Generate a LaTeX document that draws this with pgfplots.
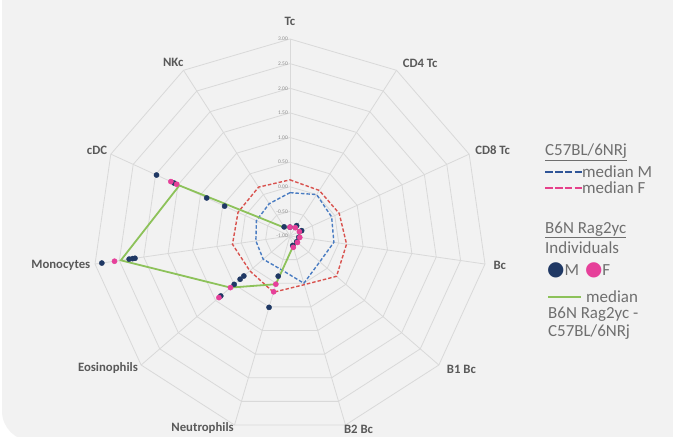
\documentclass[border=0pt]{standalone}
\usepackage{fontspec}
\setmainfont{Carlito}
\newfontfamily\symfont{DejaVu Sans}
\usepackage{pgfplots}
\pgfplotsset{compat=1.18}
\usepgfplotslibrary{polar}
\usepackage{pgfplotstable}

\definecolor{bg}{HTML}{F2F2F2}
\definecolor{gridc}{HTML}{D9D9D9}
\definecolor{labc}{HTML}{595959}
\definecolor{tickc}{HTML}{8C8C8C}
\definecolor{legc}{HTML}{6F6F6F}
\definecolor{medM}{HTML}{4A7CC2}
\definecolor{medF}{HTML}{D9534F}
\definecolor{legM}{HTML}{2F5597}
\definecolor{legF}{HTML}{E6408A}
\definecolor{indM}{HTML}{1F3864}
\definecolor{indF}{HTML}{E6409A}
\definecolor{grn}{HTML}{8DC25A}

% angles: Tc 90, CD4 Tc 57.27, CD8 Tc 24.55, Bc -8.18, B1 Bc -40.91, B2 Bc -73.64,
% Neutrophils -106.36, Eosinophils -139.09, Monocytes -171.82, cDC 155.45, NKc 122.73
\pgfplotstableread{
ang v
90 -0.12
57.27 0.00
24.55 -0.07
-8.18 -0.10
-40.91 -0.20
-73.64 0.00
-106.36 -0.30
-139.09 -0.28
-171.82 -0.30
155.45 -0.25
122.73 -0.22
90 -0.12
}\medMtab

\pgfplotstableread{
ang v
90 0.14
57.27 0.10
24.55 0.10
-8.18 0.16
-40.91 0.25
-73.64 0.03
-106.36 0.19
-139.09 0.08
-171.82 0.18
155.45 0.16
122.73 0.18
90 0.14
}\medFtab

\pgfplotstableread{
ang v
90 -0.82
57.27 -0.80
24.55 -0.78
-8.18 -0.80
-40.91 -0.80
-73.64 -0.78
-106.36 0.02
-139.09 0.60
-171.82 2.47
155.45 1.47
122.73 -0.80
90 -0.82
}\grnTab

\pgfplotstableread{
ang v
90 -0.82
57.27 -0.75
24.55 -0.74
-8.18 -0.82
-40.91 -0.82
-73.64 -0.80
122.73 -0.78
-106.36 -0.15
-106.36 0.51
-139.09 0.24
-139.09 0.34
-139.09 0.50
-139.09 0.86
-171.82 2.86
-171.82 2.30
-171.82 2.23
-171.82 2.18
155.45 1.98
155.45 1.59
155.45 0.86
155.45 0.46
}\indMtab

\pgfplotstableread{
ang v
90 -0.82
57.27 -0.80
24.55 -0.79
-8.18 -0.80
-40.91 -0.80
-73.64 -0.76
-106.36 0.02
-106.36 0.18
-139.09 0.60
-139.09 0.91
-171.82 2.60
155.45 1.66
155.45 1.53
}\indFtab

\newcommand{\dashrule}[1]{\textcolor{#1}{\rule[0.27em]{7.5bp}{2bp}\hspace{2.3bp}\rule[0.27em]{7.5bp}{2bp}\hspace{2.3bp}\rule[0.27em]{7.5bp}{2bp}\hspace{2.3bp}\rule[0.27em]{7.5bp}{2bp}}}

\begin{document}
\begin{tikzpicture}[
  tklab/.style={anchor=east, xshift=-2bp, text=tickc, font=\fontsize{5.5}{6}\selectfont, inner sep=0pt},
  catlab/.style={text=labc, font=\bfseries\fontsize{12.8}{14}\selectfont, inner sep=0pt},
]
\useasboundingbox (0,0) rectangle (673bp,437bp);
\fill[white] (0,0) rectangle (673bp,437bp);
\fill[bg, rounded corners=30bp] (2bp,-4bp) rectangle (720bp,480bp);
\begin{polaraxis}[
  at={(290bp,201bp)}, anchor=center,
  width=394bp, height=394bp, scale only axis,
  xmin=0, xmax=360, ymin=0, ymax=4,
  hide axis, clip=false,
]
% polygon grid
\pgfplotsinvokeforeach{0.5,1,1.5,2,2.5,3,3.5,4}{
  \addplot[gridc, line width=0.8bp, mark=none] coordinates {(90,#1) (57.27,#1) (24.55,#1) (-8.18,#1) (-40.91,#1) (-73.64,#1) (-106.36,#1) (-139.09,#1) (-171.82,#1) (155.45,#1) (122.73,#1) (90,#1)};
}
\pgfplotsinvokeforeach{90,57.27,24.55,-8.18,-40.91,-73.64,-106.36,-139.09,-171.82,155.45,122.73}{
  \addplot[gridc, line width=0.8bp, mark=none] coordinates {(#1,0) (#1,4)};
}
% scale labels
\node[tklab] at (axis cs:90,4) {3.00};
\node[tklab] at (axis cs:90,3.5) {2.50};
\node[tklab] at (axis cs:90,3) {2.00};
\node[tklab] at (axis cs:90,2.5) {1.50};
\node[tklab] at (axis cs:90,2) {1.00};
\node[tklab] at (axis cs:90,1.5) {0.50};
\node[tklab] at (axis cs:90,1) {0.00};
\node[tklab] at (axis cs:90,0.5) {-0.50};
\node[tklab] at (axis cs:90,0) {-1.00};
% medians
\addplot[medM, line width=1.4bp, dash pattern=on 3.5bp off 2bp, mark=none] table[x=ang, y expr=\thisrow{v}+1] {\medMtab};
\addplot[medF, line width=1.4bp, dash pattern=on 3.5bp off 2bp, mark=none] table[x=ang, y expr=\thisrow{v}+1] {\medFtab};
\addplot[grn, line width=1.8bp, mark=none] table[x=ang, y expr=\thisrow{v}+1] {\grnTab};
\addplot[only marks, mark=*, mark size=2.6bp, draw=indM, fill=indM] table[x=ang, y expr=\thisrow{v}+1] {\indMtab};
\addplot[only marks, mark=*, mark size=2.6bp, draw=indF, fill=indF] table[x=ang, y expr=\thisrow{v}+1] {\indFtab};
% category labels
\node[catlab] at (axis cs:90,4.35) {Tc};
\node[catlab] at (axis cs:53,4.39) {CD4 Tc};
\node[catlab] at (axis cs:23,4.47) {CD8 Tc};
\node[catlab] at (axis cs:-7.9,4.30) {Bc};
\node[catlab] at (axis cs:-37.9,4.41) {B1 Bc};
\node[catlab] at (axis cs:-70.5,4.17) {B2 Bc};
\node[catlab] at (axis cs:-114.5,4.28) {Neutrophils};
\node[catlab] at (axis cs:-144,4.57) {Eosinophils};
\node[catlab] at (axis cs:-172.8,4.69) {Monocytes};
\node[catlab] at (axis cs:156,4.29) {cDC};
\node[catlab] at (axis cs:124,4.24) {NKc};
\end{polaraxis}
% legend (text box)
\begin{scope}[every node/.style={anchor=west, inner sep=0pt, text=legc, font=\fontsize{17}{19}\selectfont}]
\node at (545bp,285bp) {\underline{C57BL/6NRj}};
\node at (545bp,265bp) {\dashrule{legM}median M};
\node at (545bp,249bp) {\dashrule{legF}median F};
\node at (545bp,207bp) {\underline{B6N Rag2yc}};
\node at (545bp,189bp) {Individuals};
\node at (547bp,167bp) {{\symfont\fontsize{20}{20}\selectfont\textcolor{indM}{●}}M\hspace{6bp}{\symfont\fontsize{20}{20}\selectfont\textcolor{indF}{●}}F};
\node at (548bp,140bp) {\textcolor{grn}{\rule[0.28em]{33bp}{1.8bp}}\hspace{5bp}median};
\node at (548bp,123bp) {B6N Rag2yc -};
\node at (548bp,105bp) {C57BL/6NRj};
\end{scope}
\end{tikzpicture}
\end{document}
